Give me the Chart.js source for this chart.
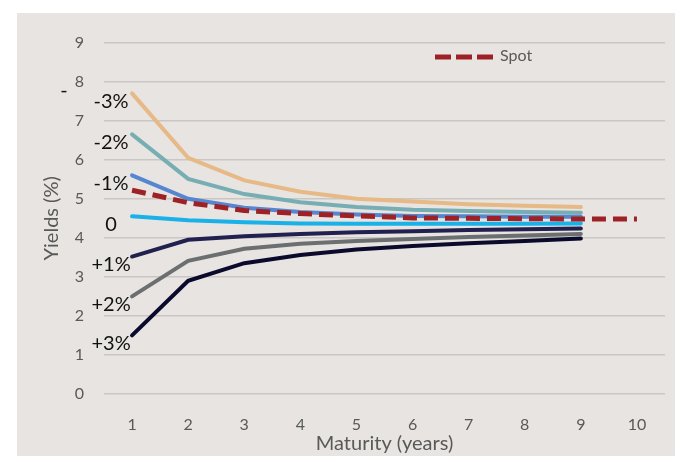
<!DOCTYPE html>
<html>
<head>
<meta charset="utf-8">
<script src="https://cdn.jsdelivr.net/npm/chart.js@4"></script>
<style>
  html, body { margin: 0; padding: 0; background: #ffffff; }
  #panel { position: absolute; left: 17px; top: 13px; width: 658px; height: 443px; background: #e7e4e1; }
  #panel canvas { display: block; }
</style>
</head>
<body>
<div id="panel"><canvas id="grafico" width="658" height="443"></canvas></div>
<script>
// datos
const maturities = ['1', '2', '3', '4', '5', '6', '7', '8', '9', '10'];
const yieldTicks = [0, 1, 2, 3, 4, 5, 6, 7, 8, 9];

const spot      = [5.22, 4.90, 4.70, 4.62, 4.56, 4.51, 4.50, 4.49, 4.48, 4.48];
const menos3    = [7.70, 6.05, 5.47, 5.18, 5.00, 4.93, 4.86, 4.82, 4.79];
const menos2    = [6.65, 5.51, 5.12, 4.91, 4.79, 4.72, 4.69, 4.66, 4.64];
const menos1    = [5.60, 5.00, 4.77, 4.66, 4.60, 4.56, 4.55, 4.54, 4.54];
const cero      = [4.55, 4.45, 4.40, 4.37, 4.36, 4.36, 4.36, 4.36, 4.37];
const mas1      = [3.52, 3.95, 4.04, 4.10, 4.14, 4.17, 4.20, 4.22, 4.24];
const mas2      = [2.50, 3.41, 3.72, 3.85, 3.92, 3.97, 4.02, 4.06, 4.10];
const mas3      = [1.50, 2.90, 3.35, 3.56, 3.70, 3.79, 3.86, 3.92, 3.98];

const fuente = 'Lato, "Open Sans", sans-serif';
const gris = '#595959';

function serie(label, data, color, tag) {
  return {
    label, data, tag,
    borderColor: color,
    backgroundColor: color,
    borderWidth: 4,
    pointRadius: 0,
    tension: 0,
    fill: false,
    borderCapStyle: 'round'
  };
}

const datasets = [
  Object.assign(serie('Spot', spot, '#9e2126'), { borderDash: [14, 7], borderWidth: 5, borderCapStyle: 'butt' }),
  serie('-1%', menos1, '#5686d0', '-1%'),
  serie('-2%', menos2, '#77aeb3', '-2%'),
  serie('-3%', menos3, '#e6b987', '-3%'),
  serie('0', cero, '#19b1e8', '0'),
  serie('+1%', mas1, '#21204f', '+1%'),
  serie('+2%', mas2, '#6b6f6f', '+2%'),
  serie('+3%', mas3, '#0b0a2c', '+3%')
];

// etiquetas al lado del primer punto de cada curva
const etiquetas = {
  id: 'etiquetas',
  afterDatasetsDraw(chart) {
    const { ctx, scales: { x, y } } = chart;
    ctx.save();
    ctx.font = '20px ' + fuente;
    ctx.fillStyle = '#111111';
    ctx.textAlign = 'center';
    ctx.textBaseline = 'middle';
    chart.data.datasets.forEach(ds => {
      if (!ds.tag) return;
      const px = x.getPixelForValue(0) - 21;
      const py = y.getPixelForValue(ds.data[0]) + 8;
      ctx.fillText(ds.tag, px, py);
      if (ds.tag === '-3%') ctx.fillText('-', px - 47, py - 11);
    });
    ctx.restore();
  }
};

// leyenda solo con Spot
const leyenda = {
  id: 'leyenda',
  afterDraw(chart) {
    const { ctx } = chart;
    const ds = chart.data.datasets[0];
    ctx.save();
    ctx.strokeStyle = ds.borderColor;
    ctx.lineWidth = 5;
    ctx.setLineDash([16, 5]);
    ctx.beginPath();
    ctx.moveTo(418, 44);
    ctx.lineTo(478, 44);
    ctx.stroke();
    ctx.setLineDash([]);
    ctx.font = '16px ' + fuente;
    ctx.fillStyle = gris;
    ctx.textBaseline = 'middle';
    ctx.fillText(ds.label, 483, 43);
    ctx.restore();
  }
};

new Chart(document.getElementById('grafico'), {
  type: 'line',
  data: { labels: maturities, datasets },
  options: {
    responsive: false,
    animation: false,
    layout: { padding: { left: 0, right: 10, top: 24, bottom: 0 } },
    plugins: {
      legend: { display: false },
      tooltip: { enabled: false }
    },
    scales: {
      x: {
        offset: true,
        grid: { display: false, drawTicks: false },
        border: { display: false },
        afterFit: axis => { axis.height = 62; },
        ticks: { color: gris, font: { family: fuente, size: 16 }, padding: 21 },
        title: { display: true, text: 'Maturity (years)', color: gris, font: { family: fuente, size: 20 }, padding: { top: 0, bottom: 0 } }
      },
      y: {
        min: yieldTicks[0],
        max: yieldTicks[yieldTicks.length - 1],
        afterBuildTicks: axis => { axis.ticks = yieldTicks.map(v => ({ value: v })); },
        afterFit: axis => { axis.width = 87; },
        grid: { color: '#c9c6c3', lineWidth: 1.5, drawTicks: false },
        border: { display: false },
        ticks: { color: gris, font: { family: fuente, size: 16 }, padding: 20 },
        title: { display: true, text: 'Yields (%)', color: gris, font: { family: fuente, size: 20 }, padding: { top: 23, bottom: 0 } }
      }
    }
  },
  plugins: [etiquetas, leyenda]
});
</script>
</body>
</html>
